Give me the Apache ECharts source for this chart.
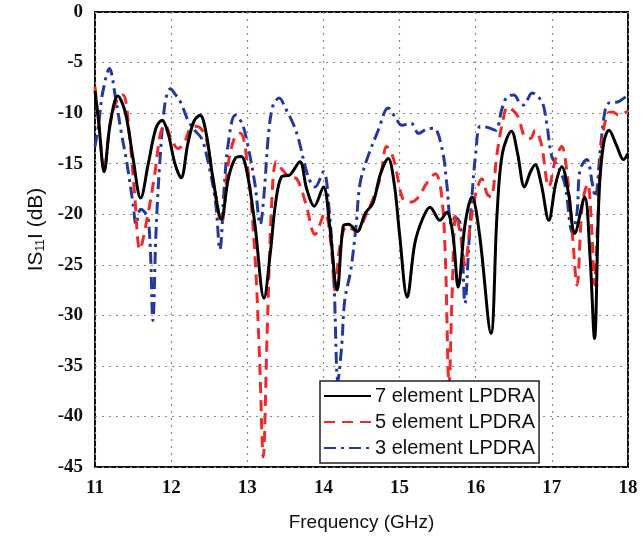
<!DOCTYPE html>
<html><head><meta charset="utf-8">
<script src="https://cdn.jsdelivr.net/npm/echarts@6/dist/echarts.min.js"></script>
<style>html,body{margin:0;padding:0;background:#fff}#c{width:643px;height:544px}</style>
</head><body><div id="c"></div>
<script>
const seriesNames = ['7 element LPDRA', '5 element LPDRA', '3 element LPDRA'];
const xTicks = [11, 12, 13, 14, 15, 16, 17, 18];
const yTicks = [0, -5, -10, -15, -20, -25, -30, -35, -40, -45];

const freq7 = [11.00,11.05,11.12,11.20,11.30,11.40,11.50,11.60,11.70,11.80,11.88,11.96,12.05,12.13,12.22,12.30,12.38,12.46,12.55,12.66,12.75,12.84,12.92,13.00,13.10,13.22,13.30,13.37,13.45,13.56,13.69,13.78,13.88,14.00,14.08,14.18,14.26,14.33,14.44,14.55,14.65,14.75,14.85,14.93,15.00,15.10,15.20,15.30,15.40,15.53,15.62,15.70,15.77,15.86,15.95,16.05,16.20,16.28,16.35,16.47,16.55,16.64,16.72,16.78,16.86,16.96,17.05,17.13,17.22,17.30,17.43,17.50,17.56,17.62,17.68,17.75,17.85,17.94,18.00];
const s11_7 = [-7.8,-11,-15.8,-11,-8.3,-10,-14.5,-18.4,-15,-11.5,-10.7,-12,-15,-16.4,-13,-10.8,-10.2,-12,-16.5,-20.5,-16.5,-14.5,-14.3,-16,-21,-28.3,-24,-19,-16.3,-16.1,-14.8,-17.5,-19.2,-17.3,-21,-27.5,-21.2,-21,-21.7,-19.9,-18.9,-16,-14.5,-17,-22,-28.2,-22.9,-20.5,-19.3,-20.6,-19.8,-22,-27.2,-21,-18.3,-22,-31.8,-20,-14,-11.8,-14,-17.3,-15.8,-15.1,-17,-20.6,-17,-15.3,-18,-21.9,-18.3,-24,-32.3,-18,-13,-11.7,-13.2,-14.6,-14];

const freq5 = [11.00,11.05,11.12,11.20,11.30,11.37,11.45,11.52,11.59,11.67,11.78,11.86,11.92,12.00,12.09,12.17,12.25,12.32,12.40,12.47,12.56,12.66,12.75,12.84,12.91,13.00,13.10,13.16,13.21,13.26,13.32,13.38,13.45,13.55,13.65,13.77,13.89,14.02,14.10,14.15,14.22,14.31,14.44,14.55,14.65,14.75,14.83,14.92,15.05,15.15,15.25,15.35,15.47,15.55,15.60,15.65,15.69,15.74,15.80,15.86,15.93,16.00,16.08,16.15,16.20,16.28,16.35,16.42,16.50,16.56,16.65,16.72,16.78,16.86,16.96,17.05,17.13,17.20,17.27,17.33,17.40,17.47,17.52,17.56,17.60,17.66,17.74,17.80,17.88,17.95,18.00];
const s11_5 = [-7.4,-11,-15.6,-11,-8.5,-8.2,-12,-18,-23.5,-21,-16.3,-12,-11.2,-12.5,-13.5,-13,-11.5,-11.3,-11.6,-12.8,-17,-20.9,-15,-12.3,-12,-15,-24,-34,-44,-32,-19,-14.8,-15.5,-16.3,-16.5,-19,-22,-19.9,-23,-27.5,-23,-21.2,-21.7,-20.2,-18.5,-16.3,-13.3,-14.5,-18.6,-18.8,-18.3,-17,-16,-18,-24,-37,-28,-20,-22,-25,-21,-18,-16.5,-18,-18.3,-14,-11,-9.4,-9.8,-10.4,-12.4,-12.5,-11.7,-13,-17.3,-14.5,-13.3,-16,-22,-27,-19,-17,-21,-27,-21,-12.7,-10,-9.9,-10.2,-10,-9.8];

const freq3 = [11.00,11.05,11.10,11.19,11.27,11.34,11.42,11.50,11.54,11.60,11.70,11.76,11.80,11.85,11.92,11.99,12.06,12.13,12.22,12.31,12.40,12.47,12.58,12.64,12.70,12.75,12.84,12.93,13.01,13.10,13.17,13.22,13.28,13.34,13.42,13.50,13.60,13.67,13.80,13.89,14.00,14.08,14.14,14.19,14.24,14.28,14.36,14.43,14.48,14.57,14.72,14.85,14.95,15.03,15.15,15.25,15.35,15.45,15.56,15.62,15.68,15.73,15.80,15.86,15.91,15.95,16.00,16.06,16.15,16.26,16.34,16.41,16.50,16.58,16.63,16.74,16.87,16.93,17.00,17.08,17.17,17.27,17.33,17.37,17.46,17.53,17.57,17.64,17.70,17.75,17.86,17.93,18.00];
const s11_3 = [-13.3,-11,-8,-5.6,-8.5,-11.7,-15,-19,-21,-19.5,-20.5,-30.5,-22,-15,-9,-7.6,-8.2,-9,-10.7,-11.7,-12.5,-14.3,-18.6,-23.5,-17,-13,-10.2,-11,-13.3,-17,-21,-18,-12,-9.2,-8.5,-9.5,-11,-12.5,-16.3,-17.3,-15.8,-20,-27,-36.5,-33,-28.5,-25.5,-21,-17,-14.6,-11.7,-9.5,-10.5,-11.2,-11,-12,-11.6,-11.5,-13.6,-17,-21,-20.3,-21,-28.8,-23,-18.3,-14,-11.3,-11.4,-11.7,-9.7,-8.4,-8.2,-9,-9.2,-8,-8.9,-10.9,-14.3,-15.3,-17,-21.8,-19.9,-15.6,-14.6,-16.9,-18.3,-13.3,-9.7,-9,-8.9,-8.6,-8.2];

function pairs(xs, ys) { return xs.map((x, i) => [x, ys[i]]); }

const chart = echarts.init(document.getElementById('c'), null, {renderer: 'canvas'});
chart.setOption({
  animation: false,
  backgroundColor: '#fff',
  grid: {left: 95, right: 15, top: 12, bottom: 77, show: true, borderColor: '#111', borderWidth: 2, backgroundColor: 'transparent'},
  xAxis: {
    type: 'value', min: 11, max: 18, interval: 1,
    name: 'Frequency (GHz)', nameLocation: 'middle', nameGap: 46,
    nameTextStyle: {fontFamily: 'Liberation Sans', fontSize: 19, color: '#111'},
    axisLine: {show: false}, axisTick: {show: false},
    axisLabel: {fontFamily: 'Liberation Serif', fontWeight: 'bold', fontSize: 19, color: '#111', margin: 12},
    splitLine: {show: true, lineStyle: {type: [2, 5], color: '#888', width: 1.2}}
  },
  yAxis: {
    type: 'value', min: -45, max: 0, interval: 5,
    name: '{a|IS}{s|11}{a|I (dB)}', nameLocation: 'middle', nameGap: 45, nameRotate: 90,
    nameTextStyle: {padding: [0, 0, 0, 20], rich: {a: {fontFamily: 'Liberation Sans', fontSize: 21, color: '#111'}, s: {fontFamily: 'Liberation Sans', fontSize: 12, color: '#111', verticalAlign: 'bottom', padding: [10, 0, 0, 0]}}},
    axisLine: {show: false}, axisTick: {show: false},
    axisLabel: {fontFamily: 'Liberation Serif', fontWeight: 'bold', fontSize: 19, color: '#111', margin: 12},
    splitLine: {show: true, lineStyle: {type: [2, 5], color: '#888', width: 1.2}}
  },
  legend: {
    orient: 'vertical', left: 320, top: 381,
    backgroundColor: '#fff', borderColor: '#222', borderWidth: 1.5,
    padding: [5, 4, 5, 3], itemWidth: 47, itemHeight: 20, itemGap: 6,
    itemStyle: {opacity: 0},
    textStyle: {fontFamily: 'Liberation Sans', fontSize: 20, color: '#111', padding: [0, 0, 0, -1]},
    data: seriesNames.map(n => ({name: n}))
  },
  series: [
    {name: seriesNames[0], type: 'line', data: pairs(freq7, s11_7), smooth: 0.35, symbol: 'none', z: 3,
     lineStyle: {color: '#000', width: 3, type: 'solid'}, itemStyle: {color: '#000'}},
    {name: seriesNames[1], type: 'line', data: pairs(freq5, s11_5), smooth: 0.35, symbol: 'none', z: 2,
     lineStyle: {color: '#ee2a2a', width: 3, type: [11, 7]}, itemStyle: {color: '#ee2a2a'}},
    {name: seriesNames[2], type: 'line', data: pairs(freq3, s11_3), smooth: 0.35, symbol: 'none', z: 1,
     lineStyle: {color: '#24399c', width: 3, type: [12, 5, 3, 5]}, itemStyle: {color: '#24399c'}}
  ]
});
</script></body></html>
